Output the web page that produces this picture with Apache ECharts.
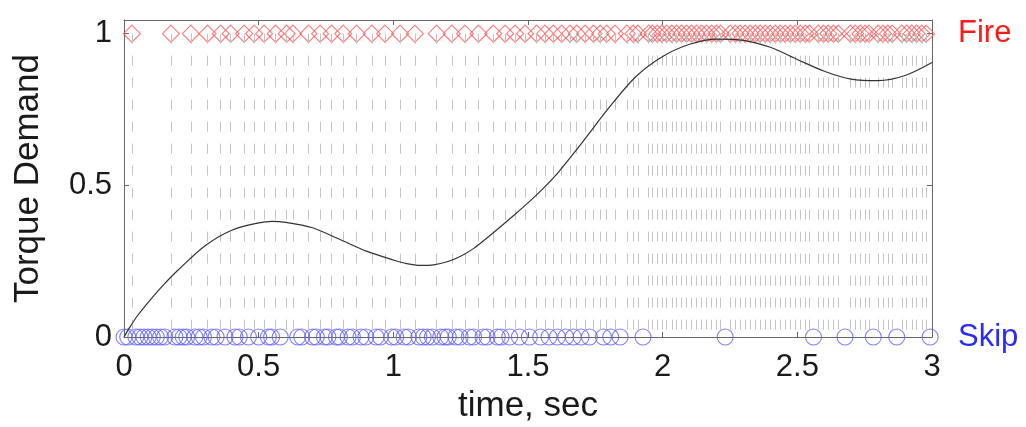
<!DOCTYPE html>
<html>
<head>
<meta charset="utf-8">
<script src="https://cdn.jsdelivr.net/npm/echarts@6/dist/echarts.min.js"></script>
<style>html,body{margin:0;padding:0;background:#fff}#c{width:1026px;height:427px}</style>
</head>
<body>
<div id="c"></div>
<script>
// ---- data ----
var curveTime = [0, 0.02, 0.05, 0.1, 0.15, 0.2, 0.3, 0.4, 0.5, 0.55, 0.6, 0.7, 0.8, 0.9, 1.0, 1.05, 1.1, 1.15, 1.2, 1.25, 1.3, 1.35, 1.4, 1.45, 1.5, 1.55, 1.6, 1.7, 1.8, 1.9, 2.0, 2.1, 2.2, 2.3, 2.4, 2.5, 2.6, 2.7, 2.8, 2.9, 3.0];
var curveValue = [0, 0.03, 0.07, 0.125, 0.175, 0.22, 0.30, 0.352, 0.376, 0.381, 0.378, 0.36, 0.322, 0.283, 0.254, 0.242, 0.236, 0.238, 0.248, 0.266, 0.293, 0.328, 0.365, 0.403, 0.442, 0.484, 0.53, 0.64, 0.755, 0.858, 0.925, 0.965, 0.982, 0.978, 0.955, 0.915, 0.876, 0.85, 0.845, 0.862, 0.905];

var fireTimes = [0.029, 0.174, 0.248, 0.310, 0.359, 0.396, 0.446, 0.483, 0.520, 0.563, 0.604, 0.627, 0.685, 0.728, 0.771, 0.814, 0.864, 0.920, 0.969,
  1.025, 1.080, 1.161, 1.217, 1.266, 1.316, 1.371, 1.415, 1.452, 1.489,
  1.532, 1.563, 1.594, 1.625, 1.656, 1.681, 1.712, 1.743, 1.768, 1.792, 1.823, 1.867, 1.891, 1.908, 1.948, 1.962, 1.980, 1.997,
  2.015, 2.034, 2.052, 2.070, 2.089, 2.107, 2.126, 2.145, 2.163, 2.182, 2.200, 2.215, 2.251, 2.270, 2.288, 2.306, 2.325, 2.344, 2.362, 2.381, 2.399, 2.418, 2.437, 2.455, 2.474, 2.492, 2.511, 2.530, 2.545,
  2.578, 2.597, 2.615, 2.634, 2.652, 2.697, 2.715, 2.734, 2.752, 2.766, 2.800, 2.818, 2.836, 2.852, 2.888, 2.906, 2.925, 2.943, 2.962, 2.978];

var skipTimes = [0.000, 0.014, 0.044, 0.059, 0.074, 0.090, 0.105, 0.120, 0.136, 0.151, 0.189, 0.204, 0.220, 0.233, 0.263, 0.279, 0.295, 0.326, 0.342, 0.375, 0.412, 0.428, 0.462, 0.500, 0.536, 0.548, 0.580, 0.645, 0.660, 0.700, 0.714, 0.744, 0.757, 0.789, 0.800, 0.832, 0.848, 0.880, 0.898, 0.936, 0.952,
  0.994, 1.009, 1.040, 1.056, 1.095, 1.111, 1.127, 1.145, 1.176, 1.192, 1.204, 1.232, 1.248, 1.282, 1.298, 1.333, 1.348, 1.386, 1.400, 1.432, 1.468,
  1.505, 1.547, 1.578, 1.609, 1.640, 1.668, 1.697, 1.728, 1.780, 1.807, 1.842, 1.927,
  2.232, 2.560, 2.677, 2.782, 2.869, 2.993];

var FIRE_LEVEL = 1, SKIP_LEVEL = 0;
var xTicks = [0, 0.5, 1, 1.5, 2, 2.5, 3];
var yTicks = [0, 0.5, 1];
var xName = 'time, sec', yName = 'Torque Demand';
var fireLabel = 'Fire', skipLabel = 'Skip';

// ---- chart ----
var FONT = '"Liberation Sans", Arial, Helvetica, sans-serif';
var boxColor = '#666';
var chart = echarts.init(document.getElementById('c'), null, {renderer: 'canvas'});

var curveData = curveTime.map(function (t, i) { return [t, curveValue[i]]; });
var fireData = fireTimes.map(function (t) { return [t, FIRE_LEVEL]; });
var skipData = skipTimes.map(function (t) { return [t, SKIP_LEVEL]; });
var fireLines = fireTimes.map(function (t) { return [{coord: [t, FIRE_LEVEL]}, {coord: [t, SKIP_LEVEL]}]; });

function yFmt(v) {
  for (var i = 0; i < yTicks.length; i++) if (Math.abs(v - yTicks[i]) < 1e-9) return String(yTicks[i]);
  return '';
}

var axisBase = {
  type: 'value',
  axisLine: {show: true, onZero: false, lineStyle: {color: boxColor, width: 1}},
  axisTick: {show: true, inside: true, length: 5, lineStyle: {color: boxColor}},
  splitLine: {show: false}
};

chart.setOption({
  animation: false,
  backgroundColor: '#fff',
  grid: {left: 124, right: 94, top: 20, bottom: 90, containLabel: false, outerBoundsMode: 'none'},
  xAxis: [
    Object.assign({}, axisBase, {
      min: xTicks[0], max: xTicks[xTicks.length - 1], interval: 0.5, position: 'bottom',
      name: xName, nameLocation: 'middle', nameGap: 52,
      nameTextStyle: {fontFamily: FONT, fontSize: 35, color: '#1a1a1a'},
      axisLabel: {fontFamily: FONT, fontSize: 31, color: '#1a1a1a', margin: 15}
    }),
    Object.assign({}, axisBase, {
      min: xTicks[0], max: xTicks[xTicks.length - 1], interval: 0.5, position: 'top',
      axisLabel: {show: false}
    })
  ],
  yAxis: [
    Object.assign({}, axisBase, {
      min: 0, max: 1.045, interval: 0.5, position: 'left',
      name: yName, nameLocation: 'middle', nameGap: 78, nameRotate: 90,
      nameTextStyle: {fontFamily: FONT, fontSize: 35, color: '#1a1a1a'},
      axisLabel: {fontFamily: FONT, fontSize: 31, color: '#1a1a1a', margin: 12, formatter: yFmt, showMaxLabel: false}
    }),
    Object.assign({}, axisBase, {
      min: 0, max: 1.045, interval: 0.5, position: 'right',
      axisLabel: {
        margin: 26, showMaxLabel: false,
        formatter: function (v) {
          if (Math.abs(v - FIRE_LEVEL) < 1e-9) return '{f|' + fireLabel + '}';
          if (Math.abs(v - SKIP_LEVEL) < 1e-9) return '{s|' + skipLabel + '}';
          return '';
        },
        rich: {
          f: {fontFamily: FONT, fontSize: 31, color: '#ff1a1a'},
          s: {fontFamily: FONT, fontSize: 31, color: '#2a2aff'}
        }
      }
    })
  ],
  series: [
    {
      name: 'fire', type: 'scatter', xAxisIndex: 0, yAxisIndex: 0, z: 2,
      data: fireData, symbol: 'diamond', symbolSize: 17,
      itemStyle: {color: 'rgba(0,0,0,0)', borderColor: '#ff5a5a', borderWidth: 1.1},
      markLine: {
        silent: true, symbol: ['none', 'none'], label: {show: false},
        lineStyle: {color: '#c4c4c4', width: 1, type: [10, 12]},
        emphasis: {disabled: true},
        data: fireLines
      }
    },
    {
      name: 'skip', type: 'scatter', xAxisIndex: 0, yAxisIndex: 0, z: 3,
      data: skipData, symbol: 'circle', symbolSize: 16,
      itemStyle: {color: 'rgba(0,0,0,0)', borderColor: '#6060ff', borderWidth: 1.1}
    },
    {
      name: 'torque', type: 'line', xAxisIndex: 0, yAxisIndex: 0, z: 5,
      data: curveData, smooth: 0.3, showSymbol: false,
      lineStyle: {color: '#333', width: 1.2}
    }
  ]
});
</script>
</body>
</html>
